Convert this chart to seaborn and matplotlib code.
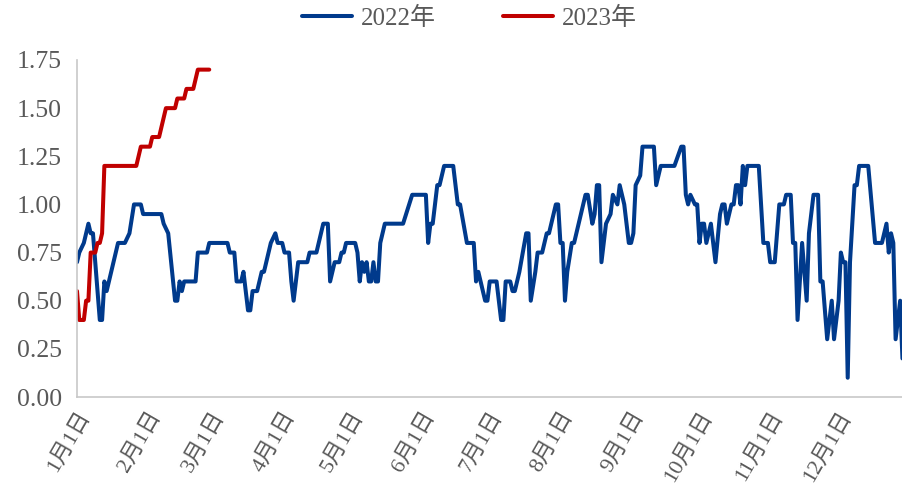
import seaborn as sns
import matplotlib.pyplot as plt
import matplotlib.dates as mdates
import pandas as pd

# day offsets from Jan 1 and values
days_2022 = [0, 1, 3, 5, 6, 7, 10, 11, 12, 13, 14, 18, 21, 23, 25, 28, 29, 37, 38, 40,
             43, 44, 45, 46, 47, 52, 53, 57, 58, 63, 66, 67, 69, 70, 72, 73, 75, 76, 77, 79,
             81, 82, 85, 87, 88, 90, 91, 93, 94, 95, 97, 101, 102, 105, 108, 110, 111, 113, 115, 116,
             117, 118, 122, 123, 124, 125, 126, 127, 128, 129, 130, 131, 132, 133, 135, 143, 147, 153, 154, 155,
             156, 158, 159, 161, 165, 167, 168, 171, 174, 175, 176, 177, 179, 180, 181, 184, 186, 187, 188, 190,
             191, 192, 193, 194, 197, 198, 199, 201, 202, 204, 205, 206, 207, 210, 211, 212, 213, 214, 215, 217,
             218, 220, 223, 224, 226, 227, 228, 229, 230, 232, 234, 235, 237, 238, 240, 242, 243, 244, 245, 247,
             248, 253, 254, 256, 262, 265, 266, 267, 268, 269, 271, 272, 273, 274, 275, 276, 278, 280, 282, 283,
             284, 285, 287, 288, 289, 290, 291, 292, 293, 294, 299, 301, 303, 304, 306, 307, 308, 310, 311, 313,
             314, 315, 316, 318, 320, 321, 323, 325, 326, 327, 329, 331, 332, 334, 335, 336, 337, 338, 339, 341,
             342, 343, 347, 350, 353, 355, 356, 357, 358, 359, 361, 362]
vals_2022 = [0.70, 0.75, 0.80, 0.90, 0.85, 0.85, 0.40, 0.40, 0.60, 0.55, 0.60, 0.80, 0.80, 0.85, 1.00, 1.00, 0.95, 0.95, 0.90, 0.85,
             0.50, 0.50, 0.60, 0.55, 0.60, 0.60, 0.75, 0.75, 0.80, 0.80, 0.80, 0.75, 0.75, 0.60, 0.60, 0.65, 0.45, 0.45, 0.55, 0.55,
             0.65, 0.65, 0.80, 0.85, 0.80, 0.80, 0.75, 0.75, 0.60, 0.50, 0.70, 0.70, 0.75, 0.75, 0.90, 0.90, 0.60, 0.70, 0.70, 0.75,
             0.75, 0.80, 0.80, 0.75, 0.60, 0.70, 0.65, 0.70, 0.60, 0.60, 0.70, 0.60, 0.60, 0.80, 0.90, 0.90, 1.05, 1.05, 0.80, 0.90,
             0.90, 1.10, 1.10, 1.20, 1.20, 1.00, 1.00, 0.80, 0.80, 0.60, 0.65, 0.60, 0.50, 0.50, 0.60, 0.60, 0.40, 0.40, 0.60, 0.60,
             0.55, 0.55, 0.60, 0.65, 0.85, 0.85, 0.50, 0.65, 0.75, 0.75, 0.80, 0.85, 0.85, 1.00, 1.00, 0.80, 0.80, 0.50, 0.65, 0.80,
             0.80, 0.90, 1.05, 1.05, 0.90, 0.95, 1.10, 1.10, 0.70, 0.90, 0.95, 1.05, 1.00, 1.10, 1.00, 0.80, 0.80, 0.85, 1.10, 1.15,
             1.30, 1.30, 1.10, 1.20, 1.20, 1.30, 1.30, 1.05, 1.00, 1.05, 1.00, 1.00, 0.80, 0.90, 0.90, 0.80, 0.90, 0.70, 0.95, 1.00,
             1.00, 0.90, 1.00, 1.00, 1.10, 1.10, 1.00, 1.20, 1.10, 1.20, 1.20, 0.80, 0.80, 0.70, 0.70, 0.85, 1.00, 1.00, 1.05, 1.05,
             0.80, 0.80, 0.40, 0.80, 0.50, 0.85, 1.05, 1.05, 0.60, 0.60, 0.30, 0.50, 0.30, 0.50, 0.75, 0.70, 0.70, 0.10, 0.70, 1.10,
             1.10, 1.20, 1.20, 0.80, 0.80, 0.90, 0.75, 0.85, 0.80, 0.30, 0.50, 0.20]

days_2023 = [0, 1, 3, 4, 5, 6, 8, 9, 10, 11, 12, 26, 28, 32, 33, 36, 39, 43, 44, 47, 48, 51, 53, 58]
vals_2023 = [0.55, 0.40, 0.40, 0.50, 0.50, 0.75, 0.75, 0.80, 0.80, 0.85, 1.20, 1.20, 1.30, 1.30, 1.35, 1.35,
             1.50, 1.50, 1.55, 1.55, 1.60, 1.60, 1.70, 1.70]

series_names = ["2022年", "2023年"]
colors = ["#003A8C", "#C00000"]

base = pd.Timestamp("2022-01-01")
df = pd.concat([
    pd.DataFrame({"date": base + pd.to_timedelta(days_2022, unit="D"), "value": vals_2022, "year": series_names[0]}),
    pd.DataFrame({"date": base + pd.to_timedelta(days_2023, unit="D"), "value": vals_2023, "year": series_names[1]}),
])

sns.set_style("white")
plt.rcParams["font.family"] = ["Liberation Serif", "Noto Sans CJK SC"]
plt.rcParams["axes.unicode_minus"] = False

fig = plt.figure(figsize=(9.03, 4.93), dpi=100)
ax = fig.add_axes([77 / 903, 96 / 493, 830 / 903, 337 / 493])

sns.lineplot(data=df, x="date", y="value", hue="year", palette=colors,
             linewidth=2.9, ax=ax, estimator=None, sort=True)

ax.set_xlim(base, pd.Timestamp("2022-12-31"))
ax.set_ylim(0, 1.75)
ax.set_yticks([0, 0.25, 0.5, 0.75, 1.0, 1.25, 1.5, 1.75])
ax.yaxis.set_major_formatter(plt.FuncFormatter(lambda v, p: f"{v:.2f}"))
ax.xaxis.set_major_locator(mdates.MonthLocator())
ax.xaxis.set_major_formatter(plt.FuncFormatter(
    lambda v, p: f"{mdates.num2date(v).month}月{mdates.num2date(v).day}日"))

for s in ["top", "right"]:
    ax.spines[s].set_visible(False)
for s in ["left", "bottom"]:
    ax.spines[s].set_color("#c8c8c8")
    ax.spines[s].set_linewidth(1.2)

ax.tick_params(axis="both", colors="#c8c8c8", length=5, width=1.2, direction="out")
ax.tick_params(axis="y", labelsize=18.5, labelcolor="#595959", pad=6)
ax.tick_params(axis="x", labelsize=16, labelcolor="#595959", pad=3)
for lbl in ax.get_xticklabels():
    lbl.set_rotation(60)
    lbl.set_ha("right")
    lbl.set_rotation_mode("anchor")

ax.set_xlabel("")
ax.set_ylabel("")
ax.grid(False)

handles, labels = ax.get_legend_handles_labels()
leg = ax.legend(handles, labels, loc="upper center", bbox_to_anchor=(0.473, 1.225),
                ncol=2, frameon=False, fontsize=18, handlelength=2.0,
                handletextpad=0.35, columnspacing=2.7)
for t in leg.get_texts():
    t.set_color("#595959")

fig.savefig("out.png", dpi=100)
